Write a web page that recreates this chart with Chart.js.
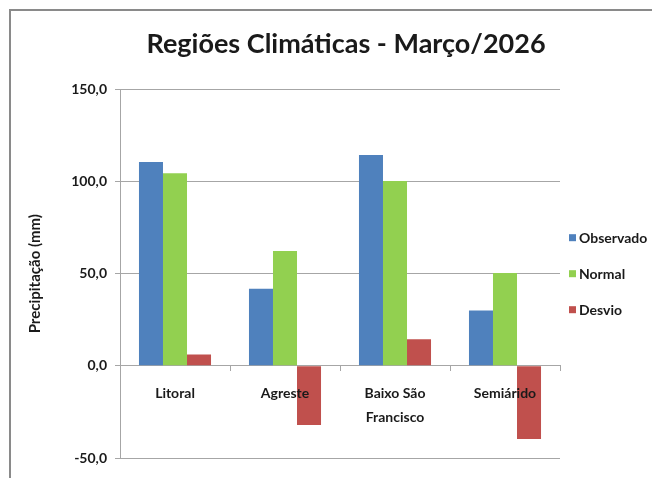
<!DOCTYPE html>
<html>
<head>
<meta charset="utf-8">
<script src="https://cdn.jsdelivr.net/npm/chart.js@4.4.1/dist/chart.umd.min.js"></script>
<style>
  html, body { margin: 0; padding: 0; background: #fff; overflow: hidden; width: 652px; height: 478px; }
  #frame { position: absolute; left: 9px; top: 9px; border: 2px solid #8a8a8a; background: #fff; }
  canvas { display: block; }
</style>
</head>
<body>
<div id="frame"><canvas id="myChart" width="660" height="480"></canvas></div>
<script>
// Precipitação por região climática (mm); desvio em %
const regioes = ['Litoral', 'Agreste', ['Baixo São', 'Francisco'], 'Semiárido'];
const observado = [110.6, 41.8, 114.4, 30.1];
const normal = [104.5, 62.3, 100.3, 50.4];
const desvio = [6.1, -32.1, 14.4, -39.7];
const yTicks = [-50, 0, 50, 100, 150];

const ctx = document.getElementById('myChart');
const gridColor = '#a6a6a6';
const textColor = '#1a1a1a';
const fontFamily = 'Lato, "Open Sans", sans-serif';

// Legend drawn by hand so the item spacing can be set freely
const sideLegend = {
  id: 'sideLegend',
  afterDraw(chart) {
    const c = chart.ctx;
    const area = chart.chartArea;
    const midY = (area.top + area.bottom) / 2;
    const step = 36;
    c.save();
    c.font = 'bold 14px ' + fontFamily;
    c.textBaseline = 'middle';
    chart.data.datasets.forEach(function(ds, i){
      const y = midY + (i - 1) * step;
      const x = area.right + 9;
      c.fillStyle = ds.backgroundColor;
      c.fillRect(x, y - 3.5, 7, 7);
      c.fillStyle = textColor;
      c.fillText(ds.label, x + 10, y + 0.5);
    });
    c.restore();
  }
};

new Chart(ctx, {
  type: 'bar',
  data: {
    labels: regioes,
    datasets: [
      { label: 'Observado', data: observado, backgroundColor: '#4f81bd' },
      { label: 'Normal', data: normal, backgroundColor: '#92d050' },
      { label: 'Desvio', data: desvio, backgroundColor: '#c0504d' }
    ]
  },
  options: {
    responsive: false,
    animation: false,
    devicePixelRatio: 1,
    datasets: {
      bar: { categoryPercentage: 0.655, barPercentage: 1.0 }
    },
    layout: { padding: { left: 12, right: 2, top: 0, bottom: 33 } },
    plugins: {
      legend: { display: false },
      tooltip: { enabled: false },
      title: {
        display: true,
        text: 'Regiões Climáticas - Março/2026',
        color: textColor,
        font: { family: fontFamily, size: 27, weight: 'bold', lineHeight: 1.2 },
        padding: { top: 17, bottom: 29 }
      }
    },
    scales: {
      x: {
        position: { y: 0 },
        grid: { drawOnChartArea: false, tickLength: 5, color: gridColor, offset: true },
        border: { color: gridColor },
        ticks: {
          z: 1, // category names sit on top of the negative bars
          color: textColor,
          padding: 11,
          maxRotation: 0,
          autoSkip: false,
          font: { family: fontFamily, size: 14, weight: 'bold', lineHeight: 1.7 }
        }
      },
      y: {
        min: yTicks[0],
        max: yTicks[yTicks.length - 1],
        afterFit(scale){ scale.width = 97; },
        afterBuildTicks(scale){ scale.ticks = yTicks.map(v => ({ value: v })); },
        grid: { color: gridColor, tickLength: 5 },
        border: { color: gridColor },
        ticks: {
          color: textColor,
          padding: 8,
          font: { family: fontFamily, size: 14, weight: 'bold' },
          callback: v => v.toFixed(1).replace('.', ',')
        },
        title: {
          display: true,
          text: 'Precipitação (mm)',
          color: textColor,
          font: { family: fontFamily, size: 15, weight: 'bold', lineHeight: 1.2 },
          padding: { top: 3, bottom: 0 }
        }
      },
      // empty right-hand axis keeps room for the legend
      legendSpace: {
        type: 'linear',
        position: 'right',
        min: 0,
        max: 1,
        afterFit(scale){ scale.width = 109; },
        grid: { display: false },
        border: { display: false },
        ticks: { display: false }
      }
    }
  },
  plugins: [sideLegend]
});
</script>
</body>
</html>
